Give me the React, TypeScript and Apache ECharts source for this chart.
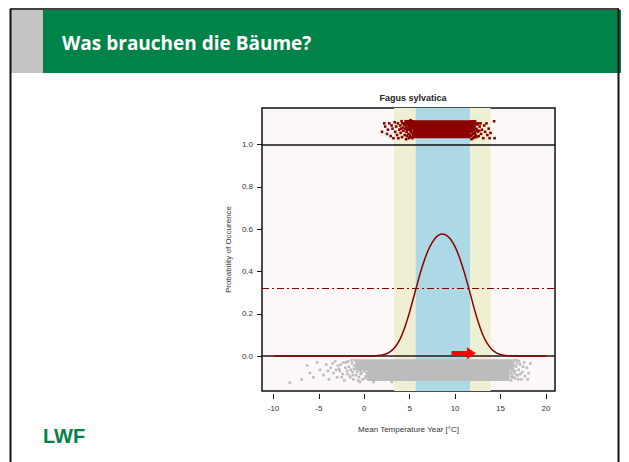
import React, { useEffect, useRef } from "react";
import * as echarts from "echarts";

// ---- data ----
const slideTitle = "Was brauchen die Bäume?";
const chartTitle = "Fagus sylvatica";
const xName = "Mean Temperature Year [°C]";
const yName = "Probability of Occurence";
const xTicks = [-10, -5, 0, 5, 10, 15, 20];
const yTicks = [0, 0.2, 0.4, 0.6, 0.8, 1.0];
const xRange = [-11.27, 21.0];
const yRange = [-0.165, 1.1726];

// fitted probability curve
const curveX = [-10, -5, 0, 1, 1.5, 2, 2.5, 3, 3.5, 4, 4.5, 5, 5.5, 6, 6.5, 7, 7.5, 8, 8.5, 9, 9.5, 10, 10.5, 11, 11.5, 12, 12.5, 13, 13.5, 14, 14.5, 15, 15.5, 16, 17, 20];
const curveY = [0, 0, 0.0001, 0.0009, 0.0024, 0.0056, 0.0124, 0.0256, 0.0488, 0.086, 0.141, 0.21, 0.289, 0.368, 0.439, 0.497, 0.539, 0.566, 0.577, 0.572, 0.552, 0.516, 0.464, 0.397, 0.321, 0.241, 0.167, 0.106, 0.062, 0.0335, 0.0167, 0.0078, 0.0034, 0.0014, 0.0002, 0];

// bands: outer (yellow) and optimum (blue)
const bandOuter = [3.27, 13.92];
const bandInner = [5.66, 11.64];
const threshold = 0.315;

// arrow annotation
const arrowFrom = [9.6, 0.014];
const arrowTo = [11.8, 0.014];

// presence points: dense blocks [x0, y0, x1, y1] + fringe points
const presenceBlocks = [
  [4.8, 1.072, 12.1, 1.115],
  [5.4, 1.03, 11.7, 1.078],
];
const presenceX = [1.95, 2.2, 2.3, 2.5, 2.6, 2.75, 2.9, 3.0, 3.1, 3.2, 3.35, 3.4, 3.5, 3.6, 3.7, 3.75, 3.85, 3.95, 4.0, 4.1, 4.15, 4.25, 4.3, 4.4, 4.45, 4.55, 4.6, 4.7, 4.75, 4.85, 4.9, 5.0, 5.05, 5.15, 5.2, 5.3, 5.35, 5.4, 5.45, 4.8, 5.1, 5.25, 4.95, 4.65,
  4.6, 4.65, 4.7, 4.8, 4.85, 4.9, 4.95, 5.0, 5.05, 5.1, 5.15, 5.2, 5.25, 5.3, 5.35, 5.4, 5.45, 5.45, 4.5, 4.55, 4.35, 4.2, 4.05,
  11.75, 11.8, 11.9, 12.0, 12.05, 12.15, 12.2, 12.3, 12.35, 12.45, 12.5, 12.6, 12.7, 12.8, 12.85, 12.95, 13.1, 13.2, 13.3, 13.45, 13.55, 13.7, 13.8, 13.9, 14.3, 14.35, 11.85, 12.1, 12.25,
  11.75, 11.8, 11.85, 11.9, 11.95, 12.0, 12.05, 12.1, 12.15, 12.2, 12.25, 12.3, 12.4, 12.55, 12.65, 11.75, 11.8];
const presenceY = [1.06, 1.1, 1.085, 1.05, 1.07, 1.1, 1.04, 1.09, 1.075, 1.03, 1.105, 1.06, 1.085, 1.045, 1.1, 1.03, 1.07, 1.09, 1.055, 1.11, 1.035, 1.08, 1.065, 1.1, 1.045, 1.09, 1.025, 1.07, 1.105, 1.05, 1.085, 1.035, 1.1, 1.06, 1.075, 1.03, 1.11, 1.045, 1.09, 1.095, 1.065, 1.08, 1.11, 1.06,
  1.1, 1.08, 1.04, 1.11, 1.07, 1.03, 1.1, 1.07, 1.045, 1.115, 1.09, 1.035, 1.105, 1.055, 1.08, 1.1, 1.065, 1.04, 1.075, 1.11, 1.095, 1.1, 1.075,
  1.04, 1.1, 1.07, 1.03, 1.09, 1.055, 1.11, 1.075, 1.035, 1.095, 1.06, 1.04, 1.085, 1.1, 1.05, 1.07, 1.03, 1.09, 1.06, 1.1, 1.045, 1.075, 1.03, 1.055, 1.11, 1.03, 1.06, 1.08, 1.045,
  1.065, 1.045, 1.11, 1.09, 1.05, 1.1, 1.07, 1.035, 1.09, 1.06, 1.1, 1.04, 1.07, 1.1, 1.065, 1.1, 1.025];

// absence points: dense blocks + fringe points
const absenceBlocks = [
  [-1.0, -0.015, 16.4, -0.068],
  [0.3, -0.062, 16.0, -0.118],
];
const absenceX = [-8.2, -6.9, -6.3, -6.0, -5.6, -5.2, -4.9, -4.5, -4.2, -3.9, -3.7, -3.4, -3.2, -3.0, -2.8, -2.6, -2.4, -2.2, -2.0, -1.9, -1.7, -1.6, -1.4, -1.3, -1.2, -1.1,
  -1.05, -1.15, -1.25, -1.35, -1.5, -1.55, -1.8, -1.85, -2.1, -2.3, -2.5, -2.7, -2.9, -3.1, -3.5, -4.0, -0.5, 1.0, 3.0,
  -0.8, -0.6, -0.4, -0.2, 0.0, 0.15, -0.7, -0.3, 0.1, -0.9, -0.45, 0.25,
  16.4, 16.5, 16.6, 16.7, 16.85, 16.9, 17.0, 17.15, 17.3, 17.4, 17.6, 17.7, 17.9, 18.1, 18.3,
  16.35, 16.4, 16.45, 16.55, 16.6, 16.75, 16.8, 16.95, 17.05, 17.2, 17.5, 18.0,
  16.1, 16.2, 16.3, 16.15, 16.25];
const absenceY = [-0.125, -0.11, -0.045, -0.08, -0.1, -0.03, -0.065, -0.09, -0.04, -0.11, -0.055, -0.08, -0.025, -0.1, -0.06, -0.04, -0.085, -0.115, -0.03, -0.07, -0.05, -0.095, -0.02, -0.075, -0.11, -0.045,
  -0.02, -0.06, -0.09, -0.035, -0.065, -0.1, -0.025, -0.085, -0.055, -0.03, -0.1, -0.07, -0.045, -0.065, -0.035, -0.07, -0.122, -0.123, -0.122,
  -0.075, -0.1, -0.085, -0.11, -0.07, -0.095, -0.115, -0.08, -0.105, -0.09, -0.07, -0.08,
  -0.03, -0.08, -0.105, -0.05, -0.02, -0.09, -0.065, -0.04, -0.11, -0.075, -0.03, -0.095, -0.055, -0.08, -0.035,
  -0.06, -0.1, -0.045, -0.02, -0.07, -0.09, -0.035, -0.11, -0.025, -0.085, -0.05, -0.11,
  -0.08, -0.1, -0.07, -0.115, -0.09];

const GREEN = "#008348";
const DARKRED = "#8b0000";
const GREY = "#bcbcbc";

export default function App() {
  const ref = useRef<HTMLDivElement>(null);
  useEffect(() => {
    if (!ref.current) return;
    const chart = echarts.init(ref.current, undefined, { renderer: "svg" });
    const axisFont = { fontFamily: "Liberation Sans", fontSize: 8, color: "#333" };
    const blockArea = (blocks: number[][]) =>
      blocks.map((b) => [{ coord: [b[0], b[1]] }, { coord: [b[2], b[3]] }]);
    chart.setOption({
      animation: false,
      backgroundColor: "#ffffff",
      title: {
        text: chartTitle,
        left: 408,
        top: 88,
        textAlign: "center",
        textStyle: { fontFamily: "Liberation Sans", fontSize: 9, fontWeight: "bold", color: "#222" },
      },
      grid: {
        left: 262, top: 108, width: 293, height: 283,
        show: true, backgroundColor: "#fdf8f8", borderColor: "#111", borderWidth: 1.5,
      },
      xAxis: {
        type: "value", min: xRange[0], max: xRange[1], offset: 3, position: "bottom",
        name: xName, nameLocation: "middle", nameGap: 31,
        nameTextStyle: axisFont,
        axisLine: { show: false, onZero: false },
        splitLine: { show: false },
        axisTick: { show: true, length: 5, customValues: xTicks, lineStyle: { color: "#111" } },
        axisLabel: { ...axisFont, margin: 10, customValues: xTicks },
      },
      yAxis: {
        type: "value", min: yRange[0], max: yRange[1], position: "left",
        name: yName, nameLocation: "middle", nameGap: 30, nameRotate: 90,
        nameTextStyle: axisFont,
        axisLine: { show: false, onZero: false },
        splitLine: { show: false },
        axisTick: { show: true, length: 5, customValues: yTicks, lineStyle: { color: "#111" } },
        axisLabel: { ...axisFont, margin: 9, customValues: yTicks, formatter: (v: number) => v.toFixed(1) },
      },
      series: [
        {
          type: "line", data: [], silent: true, z: 1,
          markArea: {
            silent: true,
            data: [
              [{ xAxis: bandOuter[0], itemStyle: { color: "#eeefd3" } }, { xAxis: bandOuter[1] }],
              [{ xAxis: bandInner[0], itemStyle: { color: "#add8e6" } }, { xAxis: bandInner[1] }],
            ],
          },
        },
        {
          type: "scatter", name: "absence", z: 3, silent: true,
          symbol: "rect", symbolSize: 2.6,
          itemStyle: { color: GREY, opacity: 1 },
          data: absenceX.map((x, i) => [x, absenceY[i]]),
          markArea: {
            silent: true,
            itemStyle: { color: GREY, opacity: 1 },
            data: blockArea(absenceBlocks),
          },
        },
        {
          type: "scatter", name: "presence", z: 3, silent: true,
          symbol: "rect", symbolSize: 2.6,
          itemStyle: { color: DARKRED, opacity: 1 },
          data: presenceX.map((x, i) => [x, presenceY[i]]),
          markArea: {
            silent: true,
            itemStyle: { color: DARKRED, opacity: 1 },
            data: blockArea(presenceBlocks),
          },
        },
        {
          type: "line", data: [], silent: true, z: 4,
          markLine: {
            silent: true, symbol: "none", label: { show: false }, animation: false,
            data: [
              { yAxis: 1, lineStyle: { color: "#111", width: 1.5, type: "solid" } },
              { yAxis: 0, lineStyle: { color: "#2a1515", width: 1.5, type: "solid" } },
              { yAxis: threshold, lineStyle: { color: DARKRED, width: 1, type: [7, 3, 2, 3] } },
            ],
          },
        },
        {
          type: "line", name: "curve", z: 5, silent: true,
          showSymbol: false, smooth: 0.2,
          lineStyle: { color: DARKRED, width: 1.5 },
          data: curveX.map((x, i) => [x, curveY[i]]),
        },
        {
          type: "line", data: [], silent: true, z: 6,
          markLine: {
            silent: true, label: { show: false }, symbol: ["none", "triangle"], symbolSize: [12, 9],
            lineStyle: { color: "#ff0000", width: 5, type: "solid" },
            data: [[{ coord: arrowFrom }, { coord: arrowTo }]],
          },
        },
      ],
      graphic: [
        { type: "rect", shape: { x: 11, y: 10, width: 32, height: 63 }, style: { fill: "#c4c4c4" }, z: 10 },
        { type: "rect", shape: { x: 43, y: 10, width: 578, height: 63 }, style: { fill: GREEN }, z: 10 },
        { type: "line", shape: { x1: 10, y1: 9, x2: 619, y2: 9 }, style: { stroke: "#000", lineWidth: 1.5 }, z: 11 },
        { type: "line", shape: { x1: 10.5, y1: 9, x2: 10.5, y2: 462 }, style: { stroke: "#111", lineWidth: 2 }, z: 11 },
        { type: "line", shape: { x1: 618.5, y1: 9, x2: 618.5, y2: 462 }, style: { stroke: "#111", lineWidth: 2 }, z: 11 },
        {
          type: "text", x: 62, y: 43, z: 12,
          style: { text: slideTitle, fill: "#ffffff", font: "bold 19px 'Open Sans'", textVerticalAlign: "middle" },
        },
        {
          type: "text", x: 43, y: 436, z: 12,
          style: {
            text: "LWF", fill: GREEN, font: "bold 20px 'Liberation Sans'", textVerticalAlign: "middle",
            textShadowColor: "#000", textShadowOffsetX: 1, textShadowOffsetY: 0, textShadowBlur: 0,
          },
        },
      ],
    });
    return () => chart.dispose();
  }, []);
  return <div ref={ref} style={{ position: "fixed", left: 0, top: 0, width: 629, height: 462 }} />;
}
